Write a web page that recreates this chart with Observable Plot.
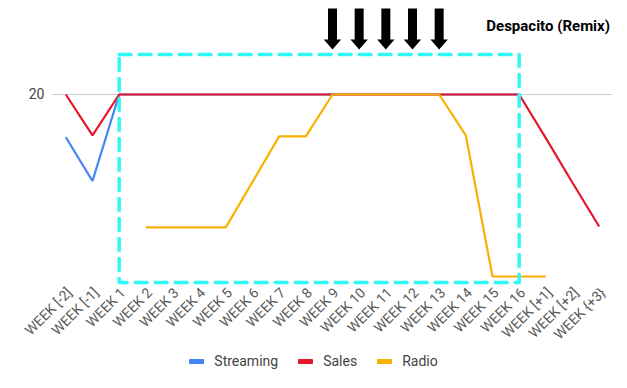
<!DOCTYPE html>
<html>
<head>
<meta charset="utf-8">
<script src="https://cdn.jsdelivr.net/npm/d3@7"></script>
<script src="https://cdn.jsdelivr.net/npm/@observablehq/plot@0.6"></script>
<style>
  html, body { margin: 0; padding: 0; background: #fff; }
  #wrap { position: relative; width: 627px; height: 388px; font-family: Roboto, "Open Sans", sans-serif; }
  #title { position: absolute; right: 17px; top: 17px; font: bold 15px Roboto, sans-serif; color: #000; }
  #legend { position: absolute; left: 0; top: 353px; width: 627px; display: flex; justify-content: center; align-items: center; font: 14px Roboto, sans-serif; color: #444; }
  .item { display: flex; align-items: center; margin: 0 10px; }
  .sw { width: 15px; height: 5px; margin-right: 10px; border-radius: 1px; }
</style>
</head>
<body>
<div id="wrap">
  <div id="chart"></div>
  <div id="title">Despacito (Remix)</div>
  <div id="legend"></div>
</div>
<script>
const weeks = ["WEEK [-2]", "WEEK [-1]", "WEEK 1", "WEEK 2", "WEEK 3", "WEEK 4", "WEEK 5", "WEEK 6", "WEEK 7", "WEEK 8", "WEEK 9", "WEEK 10", "WEEK 11", "WEEK 12", "WEEK 13", "WEEK 14", "WEEK 15", "WEEK 16", "WEEK [+1]", "WEEK [+2]", "WEEK {+3}"];
const streaming = [15.3, 10.5, 20, 20, 20, 20, 20, 20, 20, 20, 20, 20, 20, 20, 20, 20, 20, 20, null, null, null];
const sales     = [20, 15.5, 20, 20, 20, 20, 20, 20, 20, 20, 20, 20, 20, 20, 20, 20, 20, 20, 15.2, 10.3, 5.5];
const radio     = [null, null, null, 5.4, 5.4, 5.4, 5.4, 10.4, 15.4, 15.4, 20, 20, 20, 20, 20, 15.5, 0, 0, 0, null, null];
const seriesNames = ["Streaming", "Sales", "Radio"];
const seriesColors = ["#4285F4", "#E5172B", "#F8B100"];
const yTicks = [20];
const arrowWeeks = ["WEEK 9", "WEEK 10", "WEEK 11", "WEEK 12", "WEEK 13"];
const arrowTipValue = 24.95;
const boxWeeks = ["WEEK 1", "WEEK 16"];
const boxValues = [-0.66, 24.4];

const seriesValues = [streaming, sales, radio];
const rows = [];
seriesNames.forEach((s, i) => weeks.forEach((w, j) => rows.push({series: s, week: w, value: seriesValues[i][j]})));

const box = [
  {week: boxWeeks[0], value: boxValues[1]},
  {week: boxWeeks[1], value: boxValues[1]},
  {week: boxWeeks[1], value: boxValues[0]},
  {week: boxWeeks[0], value: boxValues[0]},
  {week: boxWeeks[0], value: boxValues[1]}
];

const arrowSymbol = {
  draw(ctx) {
    ctx.moveTo(-4.5, -41);
    ctx.lineTo(4.5, -41);
    ctx.lineTo(4.5, -10);
    ctx.lineTo(8.7, -10);
    ctx.lineTo(0, 0);
    ctx.lineTo(-8.7, -10);
    ctx.lineTo(-4.5, -10);
    ctx.closePath();
  }
};

const chart = Plot.plot({
  width: 627,
  height: 345,
  marginTop: 94,
  marginBottom: 69,
  marginLeft: 52,
  marginRight: 15,
  style: {fontFamily: "Roboto, sans-serif", background: "transparent"},
  x: {type: "point", domain: weeks, padding: 0.5, round: false},
  y: {domain: [0, 20]},
  color: {domain: seriesNames, range: seriesColors},
  marks: [
    Plot.gridY(yTicks, {stroke: "#cccccc", strokeOpacity: 1, strokeWidth: 1}),
    Plot.axisY(yTicks, {tickSize: 0, tickPadding: 8, fontSize: 14, fill: "#444", label: null}),
    Plot.axisX({tickSize: 0, tickPadding: 14, tickRotate: -45, fontSize: 14, fill: "#5a5a5a", dx: 4, label: null}),
    Plot.line(rows, {x: "week", y: "value", z: "series", stroke: "series", strokeWidth: 2.2, strokeLinejoin: "miter", strokeLinecap: "butt"}),
    Plot.line(box, {x: "week", y: "value", stroke: "#2EF7F7", strokeWidth: 3.5, strokeDasharray: "12,8", strokeLinejoin: "round"}),
    Plot.dot(arrowWeeks, {x: d => d, y: () => arrowTipValue, symbol: arrowSymbol, fill: "#000", stroke: "none", r: 5})
  ]
});
document.getElementById("chart").appendChild(chart);

const legend = document.getElementById("legend");
seriesNames.forEach((s, i) => {
  const item = document.createElement("div");
  item.className = "item";
  const sw = document.createElement("div");
  sw.className = "sw";
  sw.style.background = seriesColors[i];
  const t = document.createElement("span");
  t.textContent = s;
  item.appendChild(sw);
  item.appendChild(t);
  legend.appendChild(item);
});
</script>
</body>
</html>
